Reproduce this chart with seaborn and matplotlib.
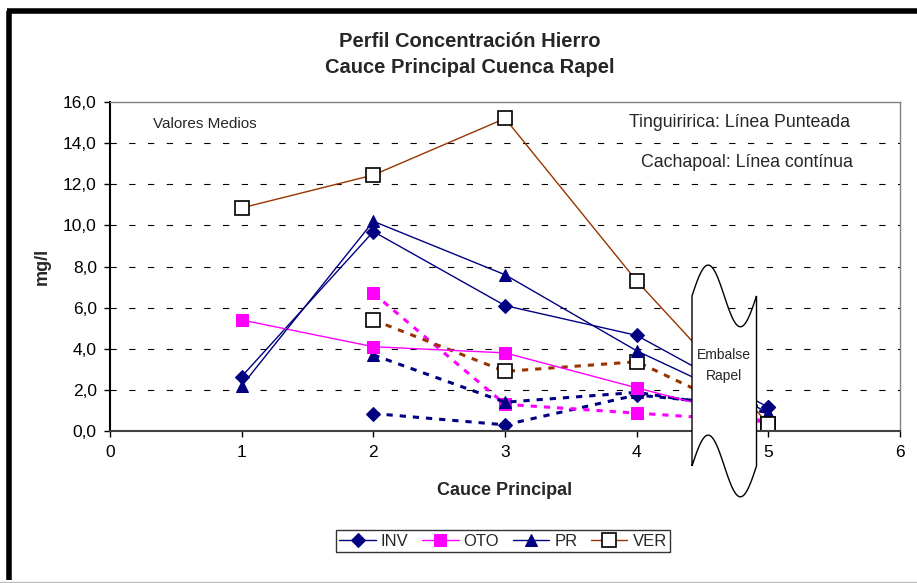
import numpy as np
import pandas as pd
import matplotlib
matplotlib.use("Agg")
import matplotlib.pyplot as plt
from matplotlib.patches import Polygon
from matplotlib.lines import Line2D
import seaborn as sns

# Valores medios de hierro (mg/l) por punto del cauce principal
puntos_cach = [1, 2, 3, 4, 5]      # Cachapoal (linea continua)
puntos_ting = [2, 3, 4, 5]         # Tinguiririca (linea punteada)

inv_cach = [2.65, 9.7, 6.1, 4.65, 1.15]
oto_cach = [5.4, 4.1, 3.8, 2.1, 0.45]
pr_cach = [2.2, 10.2, 7.6, 3.9, 0.9]
ver_cach = [10.85, 12.45, 15.2, 7.3, 0.35]

inv_ting = [0.85, 0.3, 1.75, 1.15]
oto_ting = [6.7, 1.3, 0.87, 0.45]
pr_ting = [3.7, 1.4, 1.88, 0.9]
ver_ting = [5.4, 2.9, 3.37, 0.35]

series = ["INV", "OTO", "PR", "VER"]
y_ticks = [0, 2, 4, 6, 8, 10, 12, 14, 16]
x_ticks = [0, 1, 2, 3, 4, 5, 6]

sns.set_style("white")
plt.rcParams['font.family'] = ['Liberation Sans', 'DejaVu Sans']
plt.rcParams['lines.scale_dashes'] = False

navy = '#000080'
magenta = '#FF00FF'
brown = '#993300'

estilos = {
    "INV": dict(color=navy, marker='D', markersize=7.5, markerfacecolor=navy, markeredgecolor=navy),
    "OTO": dict(color=magenta, marker='s', markersize=8.5, markerfacecolor=magenta, markeredgecolor=magenta),
    "PR": dict(color=navy, marker='^', markersize=9, markerfacecolor=navy, markeredgecolor=navy),
    "VER": dict(color=brown, marker='s', markersize=9.5, markerfacecolor='white', markeredgecolor='black',
                markeredgewidth=1.2),
}
datos_cach = {"INV": inv_cach, "OTO": oto_cach, "PR": pr_cach, "VER": ver_cach}
datos_ting = {"INV": inv_ting, "OTO": oto_ting, "PR": pr_ting, "VER": ver_ting}

fig = plt.figure(figsize=(9.17, 5.83), dpi=100)
ax = fig.add_axes([0.1200, 0.2607, 0.8615, 0.5643])

# grid first so it sits behind the lines
for yv in y_ticks[1:-1]:
    ax.axhline(yv, color='black', linewidth=0.8, linestyle=(0, (4.5, 9)), zorder=0.5)

for s in series:
    sns.lineplot(x=puntos_ting, y=datos_ting[s], ax=ax, linewidth=2.2,
                 linestyle=(0, (4.5, 5)), label='_nolegend_', **estilos[s])
for s in series:
    sns.lineplot(x=puntos_cach, y=datos_cach[s], ax=ax, linewidth=1.0,
                 label=s, **estilos[s])

handles, labels = ax.get_legend_handles_labels()
if ax.get_legend() is not None:
    ax.get_legend().remove()

ax.set_xlim(0, 6)
ax.set_ylim(0, 16)
ax.set_xticks(x_ticks)
ax.set_yticks(y_ticks)
ax.set_yticklabels([f"{v:.1f}".replace('.', ',') for v in y_ticks])
ax.tick_params(axis='both', labelsize=12.5, length=4, width=1, direction='out',
               colors='black', left=True, bottom=True)
ax.tick_params(axis='y', pad=5.5)
ax.tick_params(axis='x', pad=6)

for side in ['top', 'right']:
    ax.spines[side].set_color('#808080')
    ax.spines[side].set_linewidth(1.0)
ax.spines['left'].set_color('black')
ax.spines['left'].set_linewidth(1.5)
ax.spines['bottom'].set_color('#404040')
ax.spines['bottom'].set_linewidth(1.5)

ax.set_xlabel('Cauce Principal', fontsize=13, fontweight='bold')
ax.set_ylabel('mg/l', fontsize=13, fontweight='bold')
ax.xaxis.set_label_coords(0.5, -0.155)
ax.yaxis.set_label_coords(-0.075, 0.5)

ax.text(0.054, 0.933, 'Valores Medios', transform=ax.transAxes, fontsize=11,
        ha='left', va='center')
ax.text(0.797, 0.939, 'Tinguiririca: Línea Punteada', transform=ax.transAxes,
        fontsize=12.8, ha='center', va='center')
ax.text(0.806, 0.815, 'Cachapoal: Línea contínua', transform=ax.transAxes,
        fontsize=12.8, ha='center', va='center')

# Embalse Rapel (corte del eje)
t = np.linspace(0, 1, 80)
x0, ancho = 4.42, 0.49
arriba = np.column_stack([x0 + ancho * t, 6.57 + 1.5 * np.sin(2 * np.pi * t)])
abajo = np.column_stack([x0 + ancho * t[::-1], -1.70 + 1.5 * np.sin(2 * np.pi * t[::-1])])
forma = Polygon(np.vstack([arriba, abajo]), closed=True, facecolor='white',
                edgecolor='black', linewidth=1.0, clip_on=False, zorder=6)
ax.add_patch(forma)
ax.text(x0 + ancho / 2, 3.2, 'Embalse\nRapel', ha='center', va='center', fontsize=10,
        linespacing=1.6, zorder=7)

fig.text(0.5125, 0.928, 'Perfil Concentración Hierro', ha='center', va='center',
         fontsize=14.5, fontweight='bold')
fig.text(0.5125, 0.884, 'Cauce Principal Cuenca Rapel', ha='center', va='center',
         fontsize=14.5, fontweight='bold')

leg = fig.legend(handles, labels, loc='center', bbox_to_anchor=(0.5485, 0.072), ncol=4,
                 fontsize=12, frameon=True, fancybox=False, edgecolor='black',
                 handlelength=2.2, handletextpad=0.3, columnspacing=0.8,
                 borderpad=0.2, borderaxespad=0)
leg.get_frame().set_linewidth(1.0)

# marco del grafico
fig.add_artist(Line2D([0.0098, 0.0098], [0.005, 0.9811], transform=fig.transFigure,
                      color='black', linewidth=4, solid_capstyle='butt'))
fig.add_artist(Line2D([0.0076, 1.0], [0.9811, 0.9811], transform=fig.transFigure,
                      color='black', linewidth=4, solid_capstyle='butt'))
fig.add_artist(Line2D([0.0, 1.0], [0.002, 0.002], transform=fig.transFigure,
                      color='#c0c0c0', linewidth=1))

fig.savefig('out.png', dpi=100)
